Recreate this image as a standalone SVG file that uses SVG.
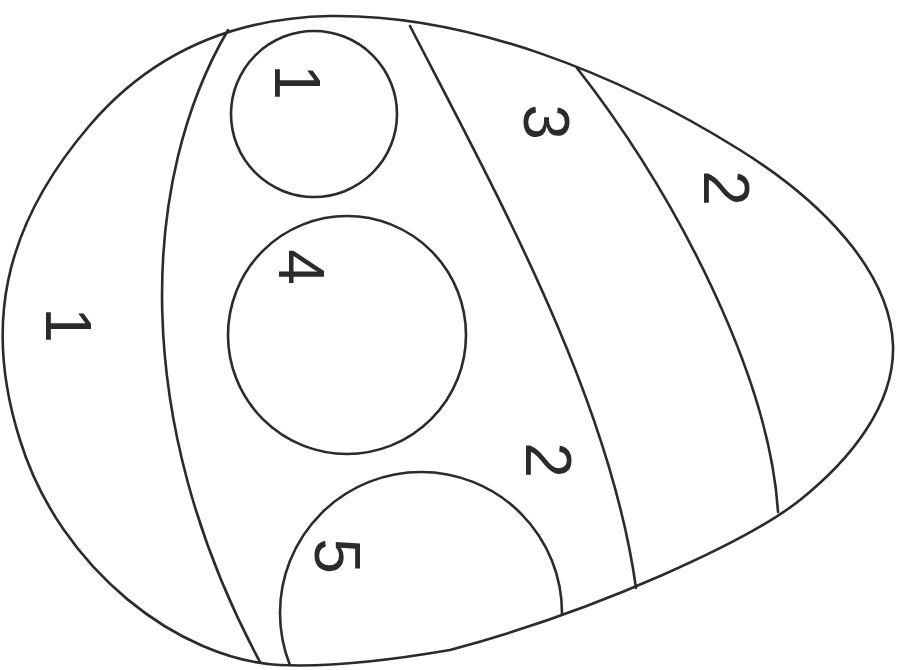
<svg xmlns="http://www.w3.org/2000/svg" width="904" height="670" viewBox="0 0 904 670">
<style>
.ln{fill:none;stroke:#2b2b2b;stroke-width:2.6;stroke-linecap:round}
.num{font-family:"Liberation Sans",Arial,sans-serif;font-size:64px;fill:#2b2b2b;text-anchor:middle;dominant-baseline:central}
</style>
<defs>
<path id="eggp" d="M 330,16 C 470,14 620,75 740,150 C 820,200 890,270 893,345 C 895,405 850,460 800,500 C 750,540 600,610 450,650 C 380,662 320,667 280,665 C 180,660 60,570 20,440 C -15,330 0,230 90,125 C 150,55 230,18 330,16 Z"/>
<clipPath id="eggclip"><use href="#eggp"/></clipPath>
</defs>
<rect width="904" height="670" fill="#ffffff"/>
<g id="egg"><use href="#eggp" class="ln"/></g>
<g id="bands">
<path class="ln" d="M 228,30 C 140,180 130,420 260,662"/>
<path class="ln" d="M 410,26 C 500,200 610,400 636,588"/>
<path class="ln" d="M 577,68 C 680,200 770,380 778,512"/>
</g>
<g id="circle1"><circle class="ln" cx="314" cy="114" r="83"/></g>
<g id="circle4"><circle class="ln" cx="347" cy="335" r="119"/></g>
<g id="circle5" clip-path="url(#eggclip)"><circle class="ln" cx="421" cy="613" r="141"/></g>
<g id="labels">
<text class="num" transform="translate(297,82) rotate(90)">1</text>
<text class="num" transform="translate(301,267) rotate(90)">4</text>
<text class="num" transform="translate(546,122) rotate(90)">3</text>
<text class="num" transform="translate(726,188) rotate(90)">2</text>
<text class="num" transform="translate(68,325) rotate(90)">1</text>
<text class="num" transform="translate(548,460) rotate(90)">2</text>
<text class="num" transform="translate(337,556) rotate(90)">5</text>
</g>
</svg>
